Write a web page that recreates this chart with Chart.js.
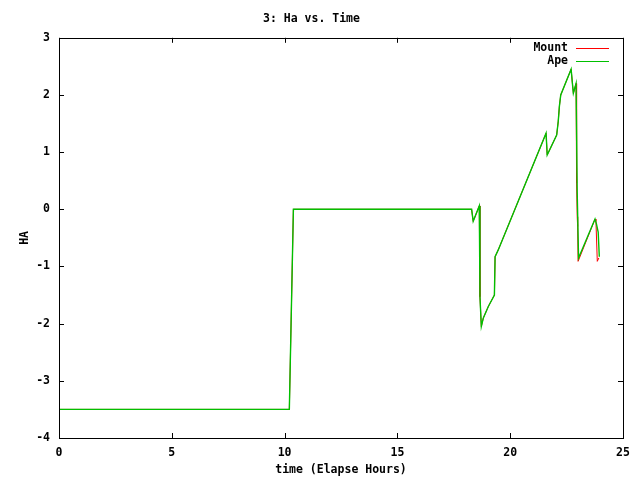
<!DOCTYPE html>
<html>
<head>
<meta charset="utf-8">
<script src="https://cdn.jsdelivr.net/npm/chart.js@4/dist/chart.umd.min.js"></script>
<style>
  html, body { margin: 0; padding: 0; background: #fff; }
  #box { width: 640px; height: 480px; }
</style>
</head>
<body>
<div id="box"><canvas id="haChart"></canvas></div>
<script>
// values (hours, HA)
var apeTime = [0, 10.21, 10.39, 18.29, 18.36, 18.63, 18.66, 18.72, 18.81, 19.03, 19.30, 19.33, 19.47,
  21.59, 21.64, 22.06, 22.13, 22.18, 22.24, 22.70, 22.77, 22.80, 22.92, 22.97, 23.03,
  23.76, 23.82, 23.90, 23.95];
var apeHa = [-3.5, -3.5, 0, 0, -0.21, 0.06, -1.53, -2.05, -1.9, -1.7, -1.5, -0.83, -0.71,
  1.33, 0.95, 1.30, 1.54, 1.80, 2.0, 2.45, 2.15, 2.03, 2.2, 0.3, -0.85,
  -0.17, -0.25, -0.40, -0.83];

var mountTime = [0, 10.21, 10.39, 18.29, 18.36, 18.63, 18.66, 18.72, 18.81, 19.03, 19.30, 19.33, 19.47,
  21.59, 21.64, 22.06, 22.13, 22.18, 22.24, 22.70, 22.77, 22.80, 22.92, 22.93, 22.94, 22.96, 22.97,
  22.99, 23.01, 23.76, 23.80, 23.86, 23.93];
var mountHa = [-3.5, -3.5, 0, 0, -0.21, 0.06, -1.53, -2.05, -1.9, -1.7, -1.5, -0.83, -0.71,
  1.33, 0.95, 1.30, 1.54, 1.80, 2.0, 2.45, 2.15, 2.03, 2.2, 1.6, 1.42, 0.46, -0.13,
  -0.3, -0.91, -0.17, -0.2, -0.91, -0.85];

var xTicksMin = 0, xTicksMax = 25, xStep = 5;
var yTicksMin = -4, yTicksMax = 3, yStep = 1;

function toPoints(xs, ys) {
  return xs.map(function (x, i) { return { x: x, y: ys[i] }; });
}

var FONT = { family: "'DejaVu Sans Mono', monospace", size: 11.5, weight: "bold" };

// gnuplot style: frame all round, ticks pointing inward on all four sides
var framePlugin = {
  id: "frame",
  afterDatasetsDraw: function (chart) {
    var ctx = chart.ctx;
    var a = chart.chartArea;
    var xs = chart.scales.x, ys = chart.scales.y;
    var len = 5;
    ctx.save();
    ctx.strokeStyle = "#000";
    ctx.lineWidth = 1;
    ctx.beginPath();
    xs.ticks.forEach(function (t) {
      var px = Math.round(xs.getPixelForValue(t.value)) + 0.5;
      ctx.moveTo(px, a.bottom); ctx.lineTo(px, a.bottom - len);
      ctx.moveTo(px, a.top); ctx.lineTo(px, a.top + len);
    });
    ys.ticks.forEach(function (t) {
      var py = Math.round(ys.getPixelForValue(t.value)) + 0.5;
      ctx.moveTo(a.left, py); ctx.lineTo(a.left + len, py);
      ctx.moveTo(a.right, py); ctx.lineTo(a.right - len, py);
    });
    ctx.stroke();
    ctx.strokeRect(Math.round(a.left) + 0.5, Math.round(a.top) + 0.5,
      Math.round(a.right - a.left), Math.round(a.bottom - a.top));
    ctx.restore();
  }
};

// key in the top right corner of the plot, text right aligned before the sample line
var keyPlugin = {
  id: "key",
  afterDraw: function (chart) {
    var ctx = chart.ctx;
    var a = chart.chartArea;
    ctx.save();
    ctx.font = FONT.weight + " " + FONT.size + "px " + FONT.family;
    ctx.textAlign = "right";
    ctx.textBaseline = "middle";
    chart.data.datasets.forEach(function (ds, i) {
      var y = a.top + 10 + i * 13.5;
      ctx.fillStyle = "#000";
      ctx.fillText(ds.label, a.right - 55, y);
      ctx.strokeStyle = ds.borderColor;
      ctx.lineWidth = 1;
      ctx.beginPath();
      ctx.moveTo(a.right - 47, Math.round(y) + 0.5);
      ctx.lineTo(a.right - 14, Math.round(y) + 0.5);
      ctx.stroke();
    });
    ctx.restore();
  }
};

new Chart("haChart", {
  type: "line",
  data: {
    datasets: [
      {
        label: "Mount",
        data: toPoints(mountTime, mountHa),
        borderColor: "#ff0000",
        borderWidth: 1,
        pointRadius: 0,
        fill: false,
        order: 2,
      },
      {
        label: "Ape",
        data: toPoints(apeTime, apeHa),
        borderColor: "#00c000",
        borderWidth: 1.4,
        pointRadius: 0,
        fill: false,
        order: 1,
      },
    ],
  },
  options: {
    responsive: true,
    maintainAspectRatio: false,
    animation: false,
    layout: { padding: { left: 0, right: 17, top: 0, bottom: 0 } },
    plugins: {
      legend: { display: false },
      tooltip: { enabled: false },
      title: {
        display: true,
        text: "3: Ha vs. Time",
        color: "#000",
        font: FONT,
        padding: { top: 12, bottom: 12 },
      },
    },
    scales: {
      x: {
        type: "linear",
        min: xTicksMin,
        max: xTicksMax,
        ticks: { stepSize: xStep, color: "#000", font: FONT, padding: 8, maxRotation: 0 },
        grid: { display: false, drawTicks: false },
        border: { display: false },
        title: {
          display: true,
          text: "time (Elapse Hours)",
          color: "#000",
          font: FONT,
          padding: { top: 0, bottom: 3 },
        },
        afterFit: function (scale) { scale.height = 42; },
      },
      y: {
        type: "linear",
        min: yTicksMin,
        max: yTicksMax,
        ticks: { stepSize: yStep, color: "#000", font: FONT, padding: 9 },
        grid: { display: false, drawTicks: false },
        border: { display: false },
        title: {
          display: true,
          text: "HA",
          color: "#000",
          font: FONT,
          padding: { top: 18, bottom: 0 },
        },
        afterFit: function (scale) { scale.width = 59; },
      },
    },
  },
  plugins: [framePlugin, keyPlugin],
});
</script>
</body>
</html>
